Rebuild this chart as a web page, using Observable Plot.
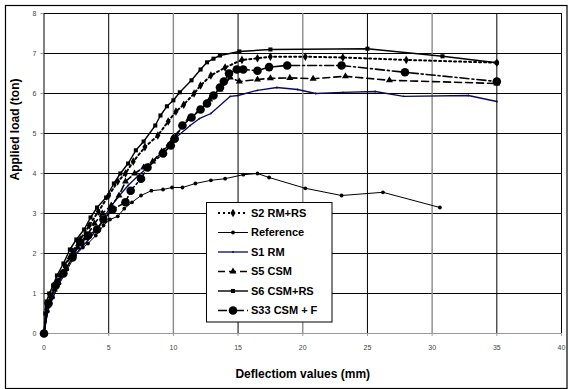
<!DOCTYPE html>
<html><head><meta charset="utf-8">
<script src="https://cdn.jsdelivr.net/npm/d3@7"></script>
<script src="https://cdn.jsdelivr.net/npm/@observablehq/plot@0.6"></script>
<style>
body{margin:0;background:#fff}
svg{font-family:"Liberation Sans",Arial,sans-serif}
</style>
</head><body><div id="chart"></div>
<script>
const xTicks = [0,5,10,15,20,25,30,35,40];
const yTicks = [0,1,2,3,4,5,6,7,8];
const xTitle = "Deflectiom values (mm)";
const yTitle = "Applied load (ton)";
const seriesNames = ["S2 RM+RS","Reference","S1 RM","S5 CSM","S6 CSM+RS","S33 CSM + F"];

const s2 = [[0,0],[0.2,0.6],[0.5,0.9],[1.0,1.3],[1.6,1.7],[2.2,2.05],[2.8,2.35],[3.5,2.7],[4.2,3.05],[5.0,3.45],[5.7,3.8],[6.3,4.0],[6.9,4.3],[7.8,4.66],[8.8,4.95],[9.6,5.3],[10.2,5.55],[10.8,5.72],[11.6,6.0],[12.1,6.2],[12.9,6.45],[14.0,6.65],[15.3,6.84],[16.5,6.88],[17.5,6.92],[20.2,6.92],[23.1,6.9],[28,6.84],[35,6.77]];
const reference = [[0,0],[0.3,0.55],[0.7,0.9],[1.2,1.25],[1.8,1.6],[2.4,1.95],[3.0,2.15],[3.4,2.25],[4.0,2.45],[4.6,2.7],[5.1,2.85],[5.7,2.93],[6.2,3.12],[6.8,3.28],[7.5,3.45],[8.3,3.57],[9.2,3.6],[9.9,3.65],[10.7,3.65],[11.7,3.75],[12.9,3.83],[14,3.87],[15.4,3.97],[16.5,4.0],[17.4,3.9],[20.2,3.63],[23,3.45],[26.2,3.53],[30.6,3.15]];
const s1 = [[0,0],[0.3,0.6],[0.8,1.0],[1.5,1.5],[2.2,1.9],[2.9,2.15],[3.6,2.4],[4.4,2.75],[5.0,3.1],[5.7,3.4],[6.5,3.7],[7.3,3.95],[8.0,4.15],[9.3,4.6],[10.2,4.9],[11.3,5.2],[12.0,5.37],[12.9,5.5],[14.4,5.93],[15,5.95],[16.5,6.08],[18,6.15],[19.6,6.1],[21,6.0],[23.1,6.03],[25.6,6.05],[27.8,5.93],[32.8,5.95],[35,5.8]];
const s5 = [[0,0],[0.3,0.7],[0.8,1.1],[1.4,1.5],[2.0,1.9],[2.6,2.15],[3.2,2.38],[3.9,2.75],[4.5,3.0],[5.2,3.2],[5.8,3.45],[6.3,3.8],[7.0,4.0],[7.7,4.15],[8.4,4.3],[9.1,4.55],[10.0,4.9],[11.2,5.37],[12.0,5.57],[12.8,5.85],[13.6,6.1],[14.4,6.4],[15.1,6.3],[16.5,6.35],[17.5,6.38],[19,6.39],[20.8,6.37],[23.3,6.43],[26.7,6.33],[35,6.25]];
const s6 = [[0,0],[0.1,0.5],[0.2,0.8],[0.4,1.0],[0.7,1.2],[1.0,1.45],[1.5,1.75],[2.0,2.1],[2.5,2.35],[3.1,2.6],[3.6,2.9],[4.1,3.15],[4.8,3.4],[5.4,3.75],[5.9,4.0],[6.5,4.25],[7.1,4.58],[7.7,4.8],[8.6,5.2],[9.0,5.45],[9.5,5.68],[10.0,5.83],[10.5,6.03],[11.4,6.33],[12.1,6.6],[12.6,6.78],[13.1,6.87],[13.6,6.95],[15.1,7.05],[17.5,7.1],[25.0,7.12],[30.8,6.93],[35,6.77]];
const s33 = [[0,0],[0.35,0.75],[0.9,1.2],[1.5,1.5],[2.2,1.9],[2.8,2.28],[3.4,2.45],[4.1,2.6],[4.6,2.85],[5.3,3.1],[6.3,3.28],[6.7,3.57],[7.5,3.87],[8.0,4.15],[9.2,4.5],[9.8,4.7],[10.1,4.87],[10.7,5.2],[11.4,5.4],[12.1,5.6],[12.6,5.75],[13.1,5.95],[13.6,6.15],[13.9,6.3],[14.3,6.5],[14.9,6.6],[15.4,6.6],[16.5,6.57],[17.4,6.66],[18.8,6.7],[23,6.7],[27.9,6.53],[35,6.3]];

const seriesData = [s2, reference, s1, s5, s6, s33];
const styles = [
  {stroke:"#000", strokeWidth:2, dash:"2,3", symbol:"diamond", r:2.6},
  {stroke:"#000", strokeWidth:1, dash:null, symbol:"circle", r:1.9},
  {stroke:"#0a0a5e", strokeWidth:1.3, dash:null, symbol:"circle", r:0.9},
  {stroke:"#000", strokeWidth:1.6, dash:"7,4", symbol:"triangle", r:2.6},
  {stroke:"#000", strokeWidth:1.4, dash:null, symbol:"square", r:2.3},
  {stroke:"#000", strokeWidth:1.6, dash:"9,3,2,3", symbol:"circle", r:4.3}
];

const lineMarks = [];
seriesData.forEach((d, i) => {
  const s = styles[i];
  lineMarks.push(Plot.line(d, {x: p => p[0], y: p => p[1], stroke: s.stroke, strokeWidth: s.strokeWidth, strokeDasharray: s.dash}));
});
seriesData.forEach((d, i) => {
  const s = styles[i];
  lineMarks.push(Plot.dot(d, {x: p => p[0], y: p => p[1], symbol: s.symbol, r: s.r, fill: s.stroke, stroke: "none"}));
});

const chart = Plot.plot({
  width: 569, height: 389,
  marginLeft: 43.5, marginRight: 8, marginTop: 13, marginBottom: 56,
  style: {background: "#fff", fontFamily: "Liberation Sans, Arial, sans-serif"},
  x: {domain: [0, 40], label: null},
  y: {domain: [0, 8], label: null},
  marks: [
    Plot.ruleY(yTicks.filter(v => v > 0), {stroke: "#000", strokeWidth: 1}),
    Plot.ruleX(xTicks.filter(v => v % 10 === 5 || v === 0 || v === 40), {stroke: "#000", strokeWidth: 1}),
    Plot.ruleX(xTicks.filter(v => v % 10 === 0 && v > 0 && v < 40), {stroke: "#8a8a8a", strokeWidth: 1.4}),
    Plot.ruleY([0], {stroke: "#999", strokeWidth: 1}),
    Plot.axisX({ticks: xTicks, tickSize: 3, tickPadding: 9, fontSize: 7, stroke: "#999", fill: "#444", label: null, tickFormat: d => String(d)}),
    Plot.axisY({ticks: yTicks, tickSize: 3, tickPadding: 4.5, fontSize: 7, stroke: "#999", fill: "#444", label: null}),
    ...lineMarks,
    Plot.text([xTitle], {frameAnchor: "bottom", dy: 44, text: d => d, fontSize: 12, fontWeight: "bold", fill: "#000"}),
    Plot.text([yTitle], {frameAnchor: "left", dx: -29, dy: 7, rotate: -90, text: d => d, fontSize: 12, fontWeight: "bold", fill: "#000"})
  ]
});

const svg = d3.select(chart);
svg.insert("rect", ":first-child").attr("x", 0).attr("y", 0).attr("width", 569).attr("height", 389).attr("fill", "#fff");
svg.append("rect").attr("x", 5.5).attr("y", 5.5).attr("width", 561.5).attr("height", 383).attr("fill", "none").attr("stroke", "#000").attr("stroke-width", 1.2);

// legend
const lg = svg.append("g").attr("text-anchor", "start");
lg.append("rect").attr("x", 206.5).attr("y", 202.5).attr("width", 125.5).attr("height", 119.5).attr("fill", "#fff").attr("stroke", "#000").attr("stroke-width", 1);
seriesNames.forEach((name, i) => {
  const s = styles[i];
  const yy = 213 + i * 19.5;
  lg.append("line").attr("x1", 218).attr("x2", 248).attr("y1", yy).attr("y2", yy)
    .attr("stroke", s.stroke).attr("stroke-width", s.strokeWidth).attr("stroke-dasharray", s.dash);
  const symMap = {circle: d3.symbolCircle, square: d3.symbolSquare, triangle: d3.symbolTriangle, diamond: d3.symbolDiamond};
  lg.append("path").attr("transform", `translate(233,${yy})`)
    .attr("d", d3.symbol(symMap[s.symbol], s.r * s.r * Math.PI)())
    .attr("fill", s.stroke);
  lg.append("text").attr("x", 251).attr("y", yy).attr("dy", "0.36em").attr("text-anchor", "start")
    .attr("font-size", 11).attr("font-weight", "bold").attr("fill", "#000").text(name);
});

document.getElementById("chart").appendChild(chart);
</script>
</body></html>
